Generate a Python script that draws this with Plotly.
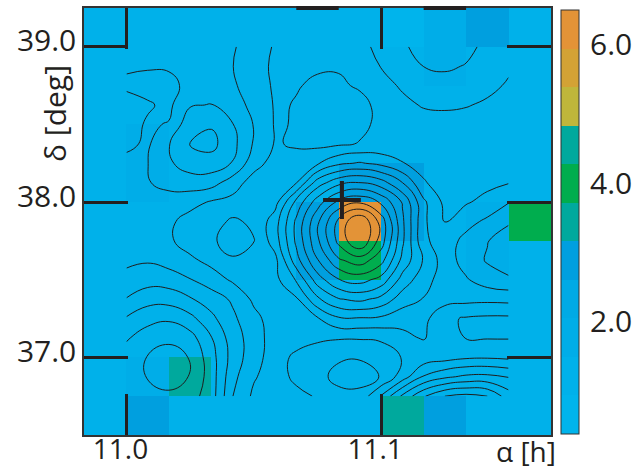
import plotly.graph_objects as go

# ---------------- data ----------------
ra_cells = [10.99167, 11.00833, 11.025, 11.04167, 11.05833, 11.075,
            11.09167, 11.10833, 11.125, 11.14167, 11.15833]
dec_cells = [39.125, 38.875, 38.625, 38.375, 38.125, 37.875,
             37.625, 37.375, 37.125, 36.875, 36.625]
# cell values, top row first
cell_values = [
    [1.22, 1.22, 1.22, 1.22, 1.22, 1.22, 1.22, 0.66, 1.77, 2.88, 1.22],
    [1.22, 1.22, 1.22, 1.22, 1.22, 1.22, 1.22, 1.22, 1.77, 1.22, 1.22],
    [1.22, 1.22, 1.22, 1.22, 1.22, 1.22, 1.22, 1.22, 1.22, 1.22, 1.22],
    [1.22, 1.77, 1.22, 1.22, 1.22, 1.22, 1.22, 1.22, 1.22, 1.22, 1.22],
    [1.22, 1.77, 1.22, 1.22, 1.22, 1.22, 2.88, 2.88, 1.22, 1.22, 1.22],
    [1.22, 1.22, 1.22, 1.22, 1.22, 2.88, 6.22, 2.88, 1.22, 1.77, 4.00],
    [1.22, 1.22, 1.22, 1.22, 1.22, 2.88, 4.00, 1.22, 1.22, 1.77, 1.22],
    [1.22, 1.22, 1.22, 1.22, 1.22, 1.22, 1.22, 1.22, 1.22, 1.22, 1.22],
    [1.22, 1.22, 1.22, 1.22, 1.22, 1.22, 1.22, 1.22, 1.22, 1.22, 1.22],
    [1.22, 1.77, 3.44, 1.22, 1.22, 1.22, 1.22, 1.22, 1.22, 1.22, 1.22],
    [1.22, 2.88, 1.22, 1.22, 1.22, 1.22, 1.22, 3.44, 2.88, 1.22, 1.22],
]
bin_colors = ['#00b4ec', '#00b1ea', '#00ade8', '#00aae5', '#009fdf', '#00a99d',
              '#00ad4e', '#00a99d', '#bfb63b', '#d3a235', '#e39337']
z_min, z_max = 0.38, 6.5
cbar_ticks = [2.0, 4.0, 6.0]
cbar_ticktext = ['2.0', '4.0', '6.0']

contour_ra = [11.0, 11.00833, 11.01667, 11.025, 11.03333, 11.04167, 11.05, 11.05833,
              11.06667, 11.075, 11.08333, 11.09167, 11.1, 11.10833, 11.11667, 11.125,
              11.13333, 11.14167, 11.15]
contour_dec = [39.0, 38.875, 38.75, 38.625, 38.5, 38.375, 38.25, 38.125, 38.0, 37.875,
               37.75, 37.625, 37.5, 37.375, 37.25, 37.125, 37.0, 36.875, 36.75]
# significance field, top row (39.0) first
contour_z = [
    [-1.8, -1.8, -1.8, -1.8, -1.8, -1.6, -1.03, -0.4, -0.18, -0.26, -0.26, 0.19, 0.81, 1.36, 1.84, 2.14, 1.75, 1.27, 0.78],
    [-1.6, -1.58, -1.58, -1.7, -1.8, -1.52, -0.9, -0.32, -0.33, -0.43, -0.44, -0.07, 0.54, 1.15, 1.51, 1.64, 1.45, 1.08, 0.65],
    [-1.35, -1.2, -1.3, -1.7, -1.9, -1.65, -0.98, -0.37, -0.46, -0.6, -0.6, -0.42, 0.18, 0.62, 1.06, 1.14, 1.02, 0.75, 0.39],
    [-1.85, -1.6, -1.3, -2.4, -2.55, -1.74, -1.35, -0.4, -0.54, -0.74, -0.76, -0.7, -0.3, 0.27, 0.58, 0.64, 0.56, 0.35, 0.05],
    [-1.85, -1.4, -1.55, -3.22, -3.4, -2.55, -1.45, -0.42, -0.55, -0.76, -0.77, -0.7, -0.3, -0.12, 0.1, 0.14, 0.08, 0.0, 0.0],
    [-1.7, -1.35, -2.45, -3.55, -3.8, -2.8, -1.4, -0.43, -0.6, -0.75, -0.65, -0.45, -0.29, -0.09, 0.0, 0.0, 0.0, 0.0, 0.0],
    [-1.25, -1.48, -2.35, -3.0, -3.08, -2.45, -0.9, -0.1, -0.17, 0.38, 1.3, 1.6, 1.22, 0.55, 0.15, 0.0, 0.0, 0.0, 0.0],
    [-1.25, -1.45, -1.75, -2.0, -1.9, -1.0, -0.05, 0.0, 0.45, 2.98, 4.2, 4.56, 3.93, 2.51, 0.6, 0.0, 0.0, 0.25, 0.45],
    [-1.2, -1.2, -1.15, -0.85, -0.4, -0.18, -0.1, 0.1, 2.8, 5.02, 6.76, 7.35, 6.34, 4.41, 1.7, 0.25, 0.4, 0.8, 1.45],
    [-1.2, -1.1, -0.7, -0.1, -0.3, -0.58, -0.41, 1.04, 3.7, 6.3, 8.79, 10.5, 8.1, 4.7, 1.7, 0.45, 1.15, 1.7, 2.35],
    [-1.2, -1.1, -0.65, -0.05, -0.39, -0.8, -0.52, 0.98, 3.7, 6.3, 8.8, 10.5, 8.0, 4.7, 1.7, 1.0, 1.8, 2.45, 3.1],
    [-1.3, -1.4, -1.1, -0.7, -0.2, -0.42, -0.3, 0.2, 3.1, 5.43, 7.34, 8.0, 6.86, 4.2, 2.4, 1.0, 1.9, 2.6, 3.2],
    [-1.8, -2.1, -2.0, -1.55, -1.0, -0.35, 0.0, 0.2, 1.6, 4.01, 5.46, 5.9, 5.13, 3.1, 1.9, 1.0, 1.4, 2.0, 2.3],
    [-2.55, -3.1, -3.1, -2.6, -2.0, -1.35, -0.3, 0.0, 0.35, 2.31, 3.43, 3.75, 3.18, 2.0, 1.45, 0.9, 0.8, 0.75, 0.8],
    [-3.6, -4.2, -4.35, -3.8, -2.75, -1.7, -0.8, 0.0, 0.0, 0.4, 1.36, 1.4, 1.3, 0.9, 0.8, -0.3, -0.6, -0.7, -0.7],
    [-4.4, -4.95, -5.3, -4.9, -3.55, -2.0, -1.0, 0.0, 0.0, -0.35, -0.42, -0.42, -0.35, 0.2, 0.6, -0.3, -0.52, -0.55, -0.55],
    [-4.9, -5.55, -5.9, -5.45, -3.9, -2.1, -0.9, 0.0, -0.75, -0.96, -1.375, -1.43, -1.08, -0.45, -0.1, 0.1, 0.35, 0.4, 0.3],
    [-5.0, -5.55, -5.95, -5.45, -4.0, -1.8, -0.6, 0.0, -0.75, -1.2, -1.8, -1.9, -1.45, 0.0, 1.6, 2.3, 2.7, 2.75, 2.45],
    [-4.9, -5.2, -5.3, -4.9, -4.0, -1.52, -0.3, 0.0, -0.2, -0.6, -1.2, -1.2, 0.6, 2.7, 4.4, 5.5, 5.8, 5.5, 4.0],
]

source_ra = [11.0846]
source_dec = [38.0135]

ra_range = [10.98333, 11.16667]
dec_range = [36.5, 39.25]
ra_ticks = [11.0, 11.1]
ra_ticktext = ['11.0', '11.1']
dec_ticks = [37.0, 38.0, 39.0]
dec_ticktext = ['37.0', '38.0', '39.0']
top_marks_ra = [[11.06667, 11.08333], [11.11667, 11.13333]]

# ---------------- figure ----------------
INK = '#231f20'
FONT = 'Open Sans, Lato, sans-serif'

n_bins = len(bin_colors)
colorscale = []
for k, c in enumerate(bin_colors):
    colorscale.append([k / n_bins, c])
    colorscale.append([(k + 1) / n_bins, c])

cb_len = 0.993
cb_y = 0.4988
cb_x = 1.0214
cb_thick = 18

fig = go.Figure()
fig.add_trace(go.Heatmap(
    x=ra_cells, y=dec_cells, z=cell_values,
    zmin=z_min, zmax=z_max, colorscale=colorscale,
    hoverinfo='skip',
    colorbar=dict(
        x=cb_x, xanchor='left', xpad=0, y=cb_y, yanchor='middle', ypad=0,
        len=cb_len, lenmode='fraction', thickness=cb_thick, thicknessmode='pixels',
        outlinewidth=1, outlinecolor='#333333', borderwidth=0,
        tickvals=cbar_ticks, ticktext=cbar_ticktext,
        ticks='outside', ticklen=5, tickcolor='rgba(0,0,0,0)',
        tickfont=dict(family=FONT, size=30, color=INK),
    ),
))
fig.add_trace(go.Contour(
    x=contour_ra, y=contour_dec[::-1], z=contour_z[::-1],
    contours=dict(coloring='none', start=-5.5, end=9.5, size=1),
    line=dict(color='#1e1e1e', width=1, smoothing=1.3),
    showscale=False, hoverinfo='skip',
))
fig.add_trace(go.Scatter(
    x=source_ra, y=source_dec, mode='markers', hoverinfo='skip',
    marker=dict(symbol='cross-thin', size=27, line=dict(width=4, color=INK)),
    showlegend=False,
))

shapes = []
# separators between colour bins on the colour bar
y0 = cb_y - cb_len / 2
for k in range(1, n_bins):
    yy = y0 + k * cb_len / n_bins
    shapes.append(dict(type='line', xref='paper', yref='paper',
                       x0=cb_x, x1=cb_x + cb_thick / 467, y0=yy, y1=yy,
                       line=dict(color='#2a2a2a', width=1)))
for seg in top_marks_ra:
    shapes.append(dict(type='line', xref='x', yref='paper', x0=seg[0], x1=seg[1],
                       y0=1, y1=1, line=dict(color=INK, width=4)))

fig.update_layout(
    width=634, height=471,
    margin=dict(l=84, r=83, t=8, b=36, autoexpand=False),
    paper_bgcolor='white', plot_bgcolor='#00b1ea',
    showlegend=False,
    font=dict(family=FONT, color=INK, size=30),
    shapes=shapes,
    xaxis=dict(range=ra_range, tickvals=ra_ticks, ticktext=ra_ticktext,
               ticks='inside', ticklen=41, tickwidth=3, tickcolor=INK,
               showline=True, linewidth=1.5, linecolor='#333333', mirror='ticks',
               showgrid=False, zeroline=False, automargin=False,
               tickfont=dict(family=FONT, size=28, color=INK),
               ticklabelshift=-6, ticklabelstandoff=-11),
    yaxis=dict(range=dec_range, tickvals=dec_ticks, ticktext=dec_ticktext,
               ticks='inside', ticklen=44, tickwidth=3, tickcolor=INK,
               showline=True, linewidth=1.5, linecolor='#333333', mirror='ticks',
               showgrid=False, zeroline=False, automargin=False,
               tickfont=dict(family=FONT, size=30, color=INK),
               ticklabelshift=-6),
    annotations=[
        dict(text='δ [deg]', xref='paper', yref='paper', x=-0.062, y=0.752,
             textangle=-90, showarrow=False, xanchor='center', yanchor='middle',
             font=dict(family=FONT, size=30, color=INK)),
        dict(text='α [h]', xref='paper', yref='paper', x=0.9465, y=-0.038,
             showarrow=False, xanchor='center', yanchor='middle',
             font=dict(family=FONT, size=28, color=INK)),
    ],
)

# the page itself gets no margin, so the figure fills the 634x471 window exactly
fig.write_html('out.html', config={'displayModeBar': False},
               post_script="document.body.style.margin='0';")
